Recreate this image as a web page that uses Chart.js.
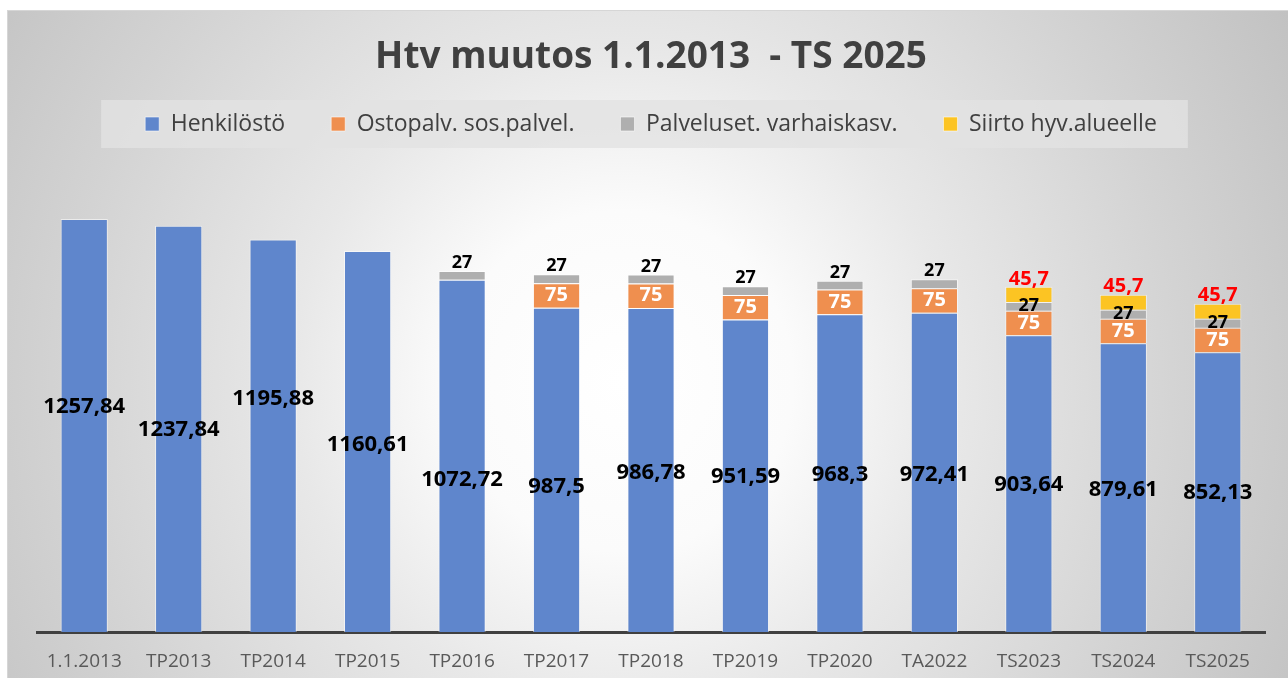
<!DOCTYPE html>
<html>
<head>
<meta charset="utf-8">
<title>Htv muutos 1.1.2013 - TS 2025</title>
<script src="https://cdn.jsdelivr.net/npm/chart.js@4.4.0/dist/chart.umd.min.js"></script>
<style>
    html, body { margin: 0; padding: 0; background: #ffffff; }
    #frame {
        position: absolute; left: 7px; top: 10px; width: 1281px; height: 668px;
        border-top: 1px solid #d6d6d6; border-left: 1px solid #d6d6d6;
        background: radial-gradient(circle at 615px 370px, #ffffff 0px, #fbfbfb 170px, #e8e8e8 330px, #d3d3d3 560px, #c2c2c2 760px);
    }
    #wrap { position: absolute; left: 0; top: 0; width: 1288px; height: 678px; }
</style>
</head>
<body>
<div id="frame"></div>
<div id="wrap"><canvas id="bar-chart-area" width="1288" height="678"></canvas></div>
<script>
var categories = ["1.1.2013", "TP2013", "TP2014", "TP2015", "TP2016", "TP2017", "TP2018",
    "TP2019", "TP2020", "TA2022", "TS2023", "TS2024", "TS2025"];
var henkilosto = [1257.84, 1237.84, 1195.88, 1160.61, 1072.72, 987.5, 986.78, 951.59, 968.3, 972.41, 903.64, 879.61, 852.13];
var ostopalvelut = [null, null, null, null, null, 75, 75, 75, 75, 75, 75, 75, 75];
var palveluseteli = [null, null, null, null, 27, 27, 27, 27, 27, 27, 27, 27, 27];
var siirto = [null, null, null, null, null, null, null, null, null, null, 45.7, 45.7, 45.7];

// where the Henkilöstö labels sit (in axis units), they were dragged around by hand in the original
var labelAt = [685, 615, 710, 570, 463, 442, 484, 472, 478, 478, 448, 433, 423];

var fontFamily = "'Open Sans', 'DejaVu Sans', sans-serif";
var labelFonts = ["bold 22px " + fontFamily, "bold 20px " + fontFamily, "bold 18px " + fontFamily, "bold 20px " + fontFamily];
var labelColors = ["#000000", "#ffffff", "#000000", "#ff0000"];

function formatValue(v) {
    return String(v).replace(".", ",");
}

var legendBox = {
    id: "legendBox",
    beforeDraw: function (chart) {
        var legend = chart.legend;
        if (!legend || !legend.legendHitBoxes.length) {
            return;
        }
        var boxes = legend.legendHitBoxes;
        var last = boxes[boxes.length - 1];
        var opts = legend.options.labels;
        var cy = legend.top + opts.padding + boxes[0].height / 2;
        var ctx = chart.ctx;
        ctx.save();
        ctx.fillStyle = "rgba(226,226,226,0.8)";
        ctx.fillRect(boxes[0].left - 44, cy - 24, last.left + last.width - boxes[0].left + 75, 48);
        ctx.restore();
    }
};

var barLabels = {
    id: "barLabels",
    afterDatasetsDraw: function (chart) {
        var ctx = chart.ctx;
        var yScale = chart.scales.y;
        ctx.save();
        ctx.textAlign = "center";
        ctx.textBaseline = "middle";
        chart.data.datasets.forEach(function (ds, d) {
            var meta = chart.getDatasetMeta(d);
            meta.data.forEach(function (bar, i) {
                var v = ds.data[i];
                if (v === null) {
                    return;
                }
                var y;
                if (d === 0) {
                    y = yScale.getPixelForValue(labelAt[i]);
                } else if (d === 1) {
                    y = (bar.y + bar.base) / 2;
                } else if (d === 2) {
                    y = siirto[i] !== null ? (bar.y + bar.base) / 2 : bar.y - 8;
                } else {
                    y = bar.y - 8;
                }
                ctx.font = labelFonts[d];
                ctx.fillStyle = labelColors[d];
                ctx.fillText(formatValue(v), bar.x, y);
            });
        });
        ctx.restore();
    }
};

function makeSet(label, data, color) {
    return {
        label: label,
        data: data,
        backgroundColor: color,
        borderColor: "rgba(255,255,255,0.55)",
        borderWidth: 1,
        barPercentage: 0.5,
        categoryPercentage: 1.0
    };
}

var configBar = {
    type: "bar",
    data: {
        labels: categories,
        datasets: [
            makeSet("Henkilöstö", henkilosto, "#5f86cc"),
            makeSet("Ostopalv. sos.palvel.", ostopalvelut, "#ef8f4f"),
            makeSet("Palveluset. varhaiskasv.", palveluseteli, "#afafaf"),
            makeSet("Siirto hyv.alueelle", siirto, "#fcc423")
        ]
    },
    options: {
        responsive: false,
        animation: false,
        layout: {
            padding: {left: 37, right: 23, top: 0, bottom: 5}
        },
        plugins: {
            title: {
                display: true,
                text: "Htv muutos 1.1.2013  - TS 2025",
                color: "#404040",
                font: {family: fontFamily, size: 37, weight: "bold", lineHeight: 0.5},
                padding: {top: 47.75, bottom: 0.25}
            },
            legend: {
                position: "top",
                labels: {
                    color: "#404040",
                    font: {family: fontFamily, size: 23},
                    boxWidth: 14,
                    boxHeight: 14,
                    padding: 46
                }
            },
            tooltip: {enabled: false}
        },
        scales: {
            x: {
                stacked: true,
                grid: {display: false, drawTicks: false},
                border: {display: true, color: "#404040", width: 3},
                ticks: {color: "#595959", font: {family: fontFamily, size: 19}, padding: 18},
                afterFit: function (scale) {
                    scale.height = 41;
                }
            },
            y: {
                stacked: true,
                display: false,
                min: 0,
                max: 1482
            }
        }
    },
    plugins: [legendBox, barLabels]
};

var myChartBar = document.getElementById("bar-chart-area").getContext("2d");
var myBar = new Chart(myChartBar, configBar);
</script>
</body>
</html>
